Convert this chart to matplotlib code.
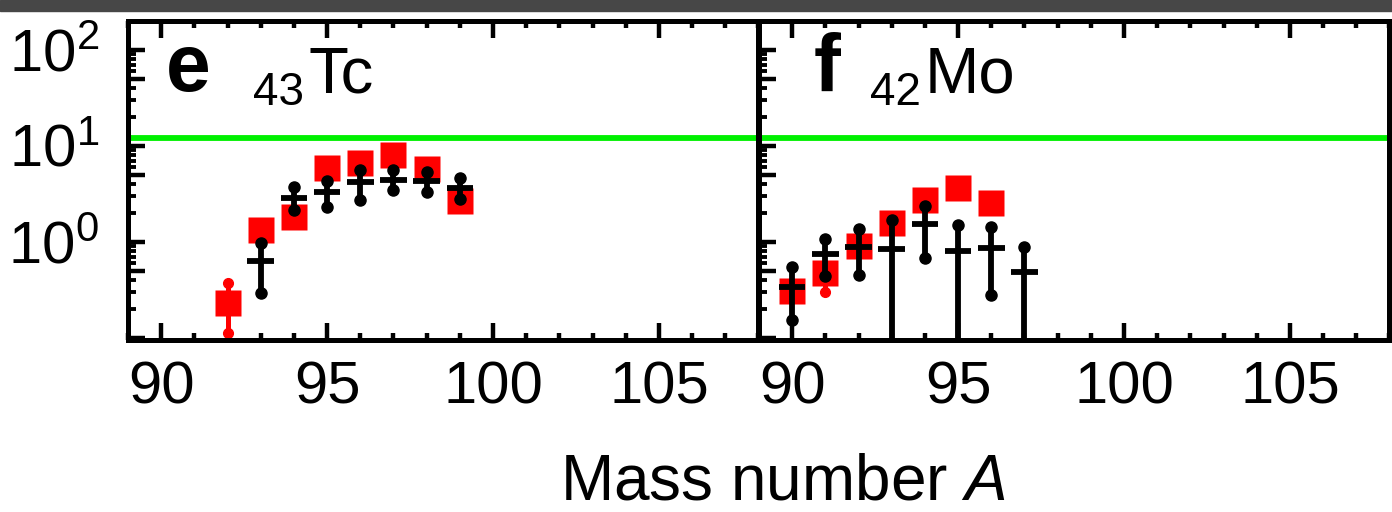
import numpy as np
import matplotlib
matplotlib.use("Agg")
import matplotlib.pyplot as plt
from matplotlib.patches import Rectangle
from matplotlib.ticker import FixedLocator, FuncFormatter, NullFormatter, MultipleLocator

plt.rcParams['font.family'] = ['Liberation Sans', 'DejaVu Sans']
plt.rcParams['mathtext.fontset'] = 'custom'
plt.rcParams['mathtext.rm'] = 'Liberation Sans'
plt.rcParams['mathtext.it'] = 'Liberation Sans:italic'
plt.rcParams['mathtext.bf'] = 'Liberation Sans:bold'

# panel e: 43Tc
tc_A = [92, 93, 94, 95, 96, 97, 98, 99]
tc_red = [0.23, 1.34, 1.83, 5.9, 6.6, 8.0, 5.7, 2.66]
tc_red_lo = [0.113, 1.34, 1.83, 5.9, 6.6, 8.0, 5.7, 2.6]
tc_red_hi = [0.37, 1.34, 1.83, 5.9, 6.6, 8.0, 5.7, 2.66]
tc_blk_A = [93, 94, 95, 96, 97, 98, 99]
tc_blk = [0.63, 2.84, 3.28, 4.18, 4.4, 4.28, 3.6]
tc_blk_lo = [0.29, 2.17, 2.33, 2.7, 3.46, 3.28, 2.77]
tc_blk_hi = [0.98, 3.7, 4.28, 5.6, 5.6, 5.4, 4.6]

# panel f: 42Mo
mo_A = [90, 91, 92, 93, 94, 95, 96]
mo_red = [0.31, 0.47, 0.91, 1.57, 2.74, 3.65, 2.53]
mo_red_lo = [0.31, 0.30, 0.91, 1.57, 2.74, 3.65, 2.53]
mo_red_hi = [0.31, 0.47, 0.91, 1.57, 2.74, 3.65, 2.53]
mo_blk_A = [90, 91, 92, 93, 94, 95, 96, 97]
mo_blk = [0.34, 0.75, 0.89, 0.84, 1.54, 0.81, 0.87, 0.49]
mo_blk_lo = [0.154, 0.44, 0.45, 0.01, 0.68, 0.01, 0.28, 0.01]
mo_blk_hi = [0.545, 1.07, 1.36, 1.67, 2.37, 1.50, 1.44, 0.88]

green_level = 12.0

y_major = [0.1, 0.5, 1, 5, 10, 50, 100]
y_minor = [m * 10.0 ** p for p in (-1, 0, 1, 2) for m in (2, 3, 4, 6, 7, 8, 9)]

panels = [
    ('e', '43', 'Tc', tc_A, tc_red, tc_red_lo, tc_red_hi, tc_blk_A, tc_blk, tc_blk_lo, tc_blk_hi),
    ('f', '42', 'Mo', mo_A, mo_red, mo_red_lo, mo_red_hi, mo_blk_A, mo_blk, mo_blk_lo, mo_blk_hi),
]

fig = plt.figure(figsize=(13.92, 5.12), dpi=100)
fig.patches.append(Rectangle((0, 1 - 11 / 512), 1, 11 / 512, transform=fig.transFigure,
                             color='#474747', zorder=0))

ax_pos = [[128 / 1392, 172 / 512, 630.5 / 1392, 319 / 512],
          [759 / 1392, 172 / 512, 630.5 / 1392, 319 / 512]]
txt_x = [(0.060, 0.198, 0.287), (0.086, 0.176, 0.262)]


def ylab(v, pos):
    for p in (0, 1, 2):
        if abs(v - 10 ** p) < 1e-6:
            return r'$10^{%d}$' % p
    return ''


for k, (lab, z, el, rA, r, rlo, rhi, bA, b, blo, bhi) in enumerate(panels):
    ax = fig.add_axes(ax_pos[k])
    ax.set_yscale('log')
    ax.set_xlim(89, 108)
    ax.set_ylim(0.095, 200)

    ax.axhline(green_level, color='#00f000', lw=4.2, zorder=1)

    r = np.array(r)
    ax.errorbar(rA, r, yerr=[r - np.array(rlo), np.array(rhi) - r], fmt='s', color='#ff0000',
                ms=19, mec='none', elinewidth=3.6, capsize=0, zorder=2)
    ax.plot(rA, rlo, 'o', color='#ff0000', ms=7, zorder=2)
    ax.plot(rA, rhi, 'o', color='#ff0000', ms=7, zorder=2)

    b = np.array(b)
    ax.errorbar(bA, b, yerr=[b - np.array(blo), np.array(bhi) - b], xerr=0.4, fmt='none',
                ecolor='black', elinewidth=4.2, capsize=0, zorder=3)
    ax.plot(bA, blo, 'o', color='black', ms=8, zorder=3)
    ax.plot(bA, bhi, 'o', color='black', ms=8, zorder=3)

    ax.text(txt_x[k][0], 0.781, lab, transform=ax.transAxes, fontsize=58, fontweight='bold',
            va='baseline', ha='left')
    ax.text(txt_x[k][1], 0.738, z, transform=ax.transAxes, fontsize=33, va='baseline', ha='left')
    ax.text(txt_x[k][2], 0.777, el, transform=ax.transAxes, fontsize=47, va='baseline', ha='left')

    ax.xaxis.set_major_locator(MultipleLocator(5))
    ax.xaxis.set_minor_locator(MultipleLocator(1))
    ax.yaxis.set_major_locator(FixedLocator(y_major))
    ax.yaxis.set_minor_locator(FixedLocator(y_minor))
    ax.yaxis.set_major_formatter(FuncFormatter(ylab))
    ax.yaxis.set_minor_formatter(NullFormatter())

    ax.tick_params(axis='x', which='both', direction='in', top=True, bottom=True,
                   labelsize=43, pad=15)
    ax.tick_params(axis='x', which='major', length=12, width=3.2)
    ax.tick_params(axis='x', which='minor', length=5, width=3.2)
    ax.tick_params(axis='y', which='both', direction='in', left=True, right=False,
                   labelsize=43, pad=21)
    ax.tick_params(axis='y', which='major', length=12, width=3.2)
    ax.tick_params(axis='y', which='minor', length=6, width=2.8)
    if k == 1:
        ax.tick_params(axis='y', labelleft=False)
    for s in ax.spines.values():
        s.set_linewidth(3.6)

fig.text(783 / 1392, 1 - 500 / 512, r'Mass number $A$', fontsize=46, ha='center', va='baseline')

fig.savefig('out.png', dpi=100)
